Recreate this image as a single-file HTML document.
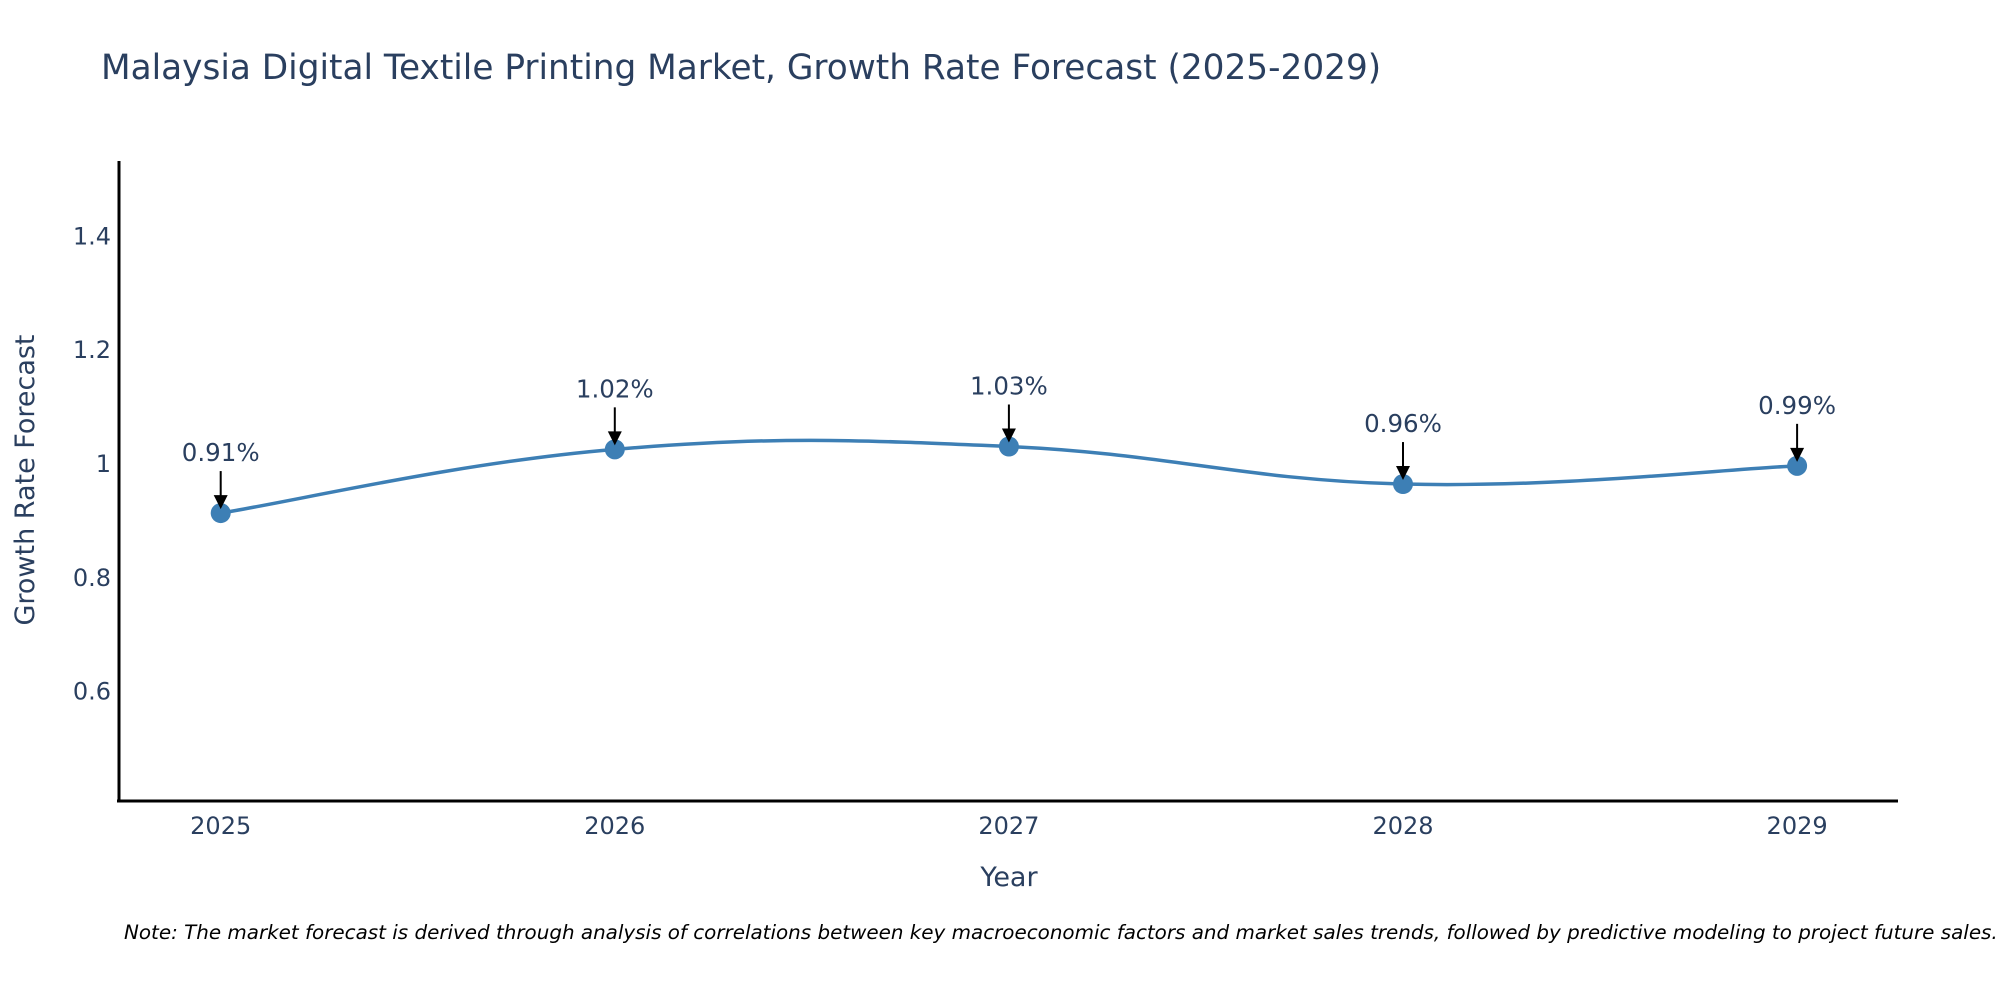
<!DOCTYPE html>
<html><head><meta charset="utf-8"><style>
html,body{margin:0;padding:0;background:#fff;}
svg{display:block;font-family:"DejaVu Sans","Liberation Sans",sans-serif;}
</style></head><body>
<svg id="chart" width="2000" height="1000" viewBox="0 0 2000 1000">
<text x="101" y="79" font-size="34.3" fill="#2a3f5f">Malaysia Digital Textile Printing Market, Growth Rate Forecast (2025-2029)</text>
<g id="yticks"></g>
<g id="xticks"></g>
<line x1="119" y1="161" x2="119" y2="802" stroke="#000" stroke-width="3"/>
<line x1="117" y1="801" x2="1898" y2="801" stroke="#000" stroke-width="3"/>
<path id="line" fill="none" stroke="#3d7fb5" stroke-width="3.5"/>
<g id="points"></g>
<g id="annots"></g>
<text x="1009" y="886" font-size="27" fill="#2a3f5f" text-anchor="middle">Year</text>
<text transform="translate(34,480) rotate(-90)" font-size="27" fill="#2a3f5f" text-anchor="middle">Growth Rate Forecast</text>
<text x="124" y="939" font-size="19.9" font-style="italic" fill="#000">Note: The market forecast is derived through analysis of correlations between key macroeconomic factors and market sales trends, followed by predictive modeling to project future sales.</text>
</svg>
<script>
const years = [2025, 2026, 2027, 2028, 2029];
const values = [0.912, 1.024, 1.029, 0.963, 0.995];
const labels = ["0.91%", "1.02%", "1.03%", "0.96%", "0.99%"];
const yTicks = [0.6, 0.8, 1, 1.2, 1.4];
const yTickLabels = ["0.6", "0.8", "1", "1.2", "1.4"];

const NS = "http://www.w3.org/2000/svg";
function xs(yr){ return 220.7 + (yr - 2025) * 394.1; }
function ys(v){ return 463 - (v - 1) * 569; }
function mk(tag, attrs, parent){ const e=document.createElementNS(NS,tag); for(const k in attrs) e.setAttribute(k,attrs[k]); parent.appendChild(e); return e; }

const yg=document.getElementById('yticks');
yTicks.forEach((t,i)=>{
  const e=mk('text',{x:111,y:ys(t)+9,'font-size':24,fill:'#2a3f5f','text-anchor':'end'},yg);
  
  
  e.textContent=yTickLabels[i];
});
const xg=document.getElementById('xticks');
years.forEach(y=>{
  const e=mk('text',{x:xs(y),y:834,'font-size':24,fill:'#2a3f5f','text-anchor':'middle'},xg);
  
  
  e.textContent=String(y);
});

const P=years.map((y,i)=>[xs(y),ys(values[i])]);
let d=`M${P[0][0]},${P[0][1]}`;
const tcoef=0.2;
for(let i=0;i<P.length-1;i++){
  const p0=P[i-1]||P[i], p1=P[i], p2=P[i+1], p3=P[i+2]||P[i+1];
  const c1=[p1[0]+(p2[0]-p0[0])*tcoef, p1[1]+(p2[1]-p0[1])*tcoef];
  const c2=[p2[0]-(p3[0]-p1[0])*tcoef, p2[1]-(p3[1]-p1[1])*tcoef];
  d+=` C${c1[0]},${c1[1]} ${c2[0]},${c2[1]} ${p2[0]},${p2[1]}`;
}
document.getElementById('line').setAttribute('d',d);

const pg=document.getElementById('points');
const ag=document.getElementById('annots');
P.forEach((p,i)=>{
  const c=mk('circle',{cx:p[0],cy:p[1],r:10,fill:'#3d7fb5'},pg);
  
  
  const l=mk('line',{x1:p[0],y1:p[1]-42,x2:p[0],y2:p[1]-16,stroke:'#000','stroke-width':2},ag);
  
  
  const h=mk('path',{d:`M${p[0]-7},${p[1]-18} L${p[0]+7},${p[1]-18} L${p[0]},${p[1]-4} Z`,fill:'#000'},ag);
  
  
  const t=mk('text',{x:p[0],y:p[1]-52,'font-size':24.5,fill:'#2a3f5f','text-anchor':'middle'},ag);
  
  
  t.textContent=labels[i];
});
</script>
</body></html>
